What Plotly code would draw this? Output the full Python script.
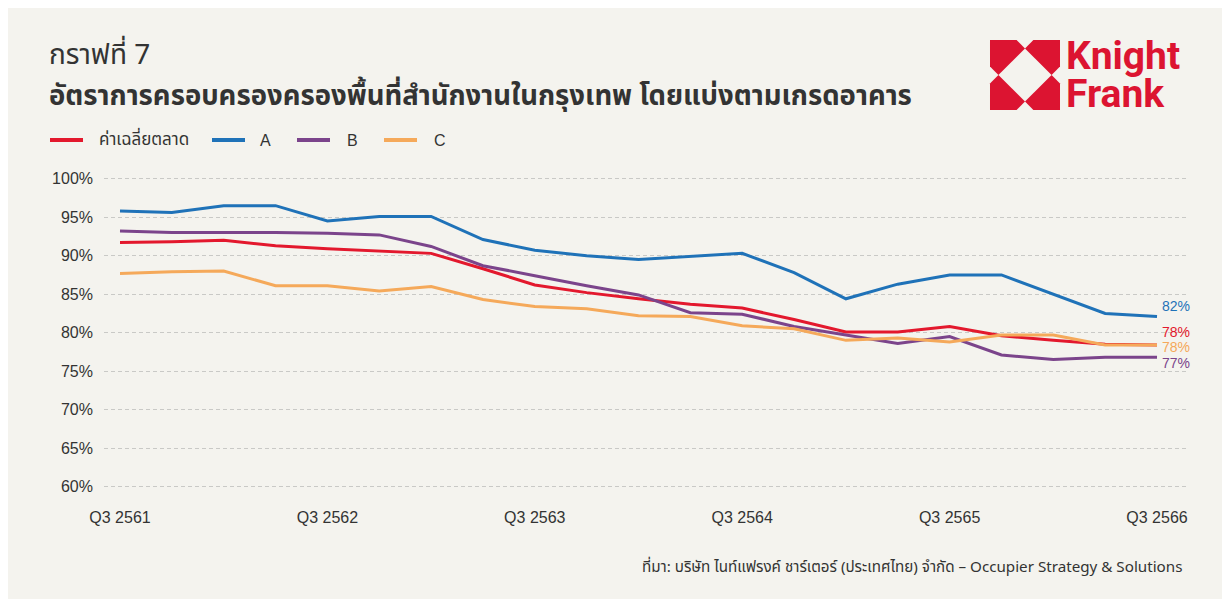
import plotly.graph_objects as go

# Quarterly periods, Q3 2561 .. Q3 2566 (Thai Buddhist years)
years = [2561, 2562, 2563, 2564, 2565, 2566]
quarters = []
for y in range(2561, 2567):
    for q in (1, 2, 3, 4):
        if (y == 2561 and q < 3) or (y == 2566 and q > 3):
            continue
        quarters.append(f"Q{q} {y}")

tick_labels = [f"Q3 {y}" for y in years]

# Occupancy rate (%) by building grade
market_avg = [91.7, 91.8, 92.0, 91.3, 90.9, 90.6, 90.3, 88.3, 86.2, 85.2, 84.4,
              83.7, 83.2, 81.7, 80.1, 80.1, 80.8, 79.6, 79.0, 78.5, 78.4]
grade_a = [95.8, 95.6, 96.5, 96.5, 94.5, 95.1, 95.1, 92.1, 90.7, 90.0, 89.5,
           89.9, 90.3, 87.8, 84.4, 86.3, 87.5, 87.5, 85.0, 82.5, 82.1]
grade_b = [93.2, 93.0, 93.0, 93.0, 92.9, 92.7, 91.2, 88.7, 87.4, 86.1, 84.9,
           82.6, 82.4, 80.8, 79.7, 78.6, 79.5, 77.1, 76.5, 76.8, 76.8]
grade_c = [87.7, 87.9, 88.0, 86.1, 86.1, 85.4, 86.0, 84.3, 83.4, 83.1, 82.2,
           82.1, 80.9, 80.5, 79.0, 79.3, 78.8, 79.7, 79.7, 78.4, 78.4]

series_names = ["ค่าเฉลี่ยตลาด", "A", "B", "C"]
series_values = [market_avg, grade_a, grade_b, grade_c]
series_colors = ["#e3182d", "#1f72b8", "#7b448b", "#f5a95a"]

title_text = "กราฟที่ 7"
subtitle_text = "อัตราการครอบครองครองพื้นที่สำนักงานในกรุงเทพ โดยแบ่งตามเกรดอาคาร"
source_text = "ที่มา: บริษัท ไนท์แฟรงค์ ชาร์เตอร์ (ประเทศไทย) จำกัด – Occupier Strategy & Solutions"

W, H = 1222, 599
L, R, T, B = 104, 1186, 171, 502
CARD = "#f4f3ee"
TEXT = "#333333"
THAI_FONT = "Noto Sans Thai, Noto Sans Thai Looped, Noto Sans, sans-serif"
LATIN_FONT = "Liberation Sans, Arial, sans-serif"
LOGO_RED = "#dc1431"


def px(x):
    return (x - L) / (R - L)


def py(y):
    return (B - y) / (B - T)


xs = list(range(len(quarters)))
fig = go.Figure()
for name, vals, color in zip(series_names, series_values, series_colors):
    fig.add_trace(go.Scatter(
        x=xs, y=vals, mode="lines", name=name,
        line=dict(color=color, width=3),
        hovertemplate="%{text}: %{y:.1f}%<extra>" + name + "</extra>",
        text=quarters,
    ))

# End-of-line value labels
label_shift = {"ค่าเฉลี่ยตลาด": 13, "A": 10, "B": -6, "C": -2}
annotations = []
for name, vals, color in zip(series_names, series_values, series_colors):
    annotations.append(dict(
        x=xs[-1], y=vals[-1], xref="x", yref="y",
        text=f"{vals[-1]:.0f}%", showarrow=False,
        xanchor="left", yanchor="middle", xshift=3, yshift=label_shift[name],
        font=dict(family=LATIN_FONT, size=14, color=color),
    ))

# Titles
annotations.append(dict(
    x=px(47), y=py(55), xref="paper", yref="paper", text=title_text,
    showarrow=False, xanchor="left", yanchor="middle",
    font=dict(family=THAI_FONT, size=28, color=TEXT),
))
annotations.append(dict(
    x=px(47), y=py(96), xref="paper", yref="paper", text=f"<b>{subtitle_text}</b>",
    showarrow=False, xanchor="left", yanchor="middle",
    font=dict(family=THAI_FONT, size=27.5, color=TEXT),
))

# Source line
annotations.append(dict(
    x=px(1184), y=py(567), xref="paper", yref="paper", text=source_text,
    showarrow=False, xanchor="right", yanchor="middle",
    font=dict(family=THAI_FONT, size=15.2, color=TEXT),
))

# Logo wordmark
annotations.append(dict(
    x=px(1064), y=py(56), xref="paper", yref="paper", text="<b>Knight</b>",
    showarrow=False, xanchor="left", yanchor="middle",
    font=dict(family="Roboto, sans-serif", size=39, color=LOGO_RED),
))
annotations.append(dict(
    x=px(1064), y=py(94), xref="paper", yref="paper", text="<b>Frank</b>",
    showarrow=False, xanchor="left", yanchor="middle",
    font=dict(family="Roboto, sans-serif", size=39, color=LOGO_RED),
))

shapes = [
    # card background
    dict(type="rect", xref="paper", yref="paper", x0=px(8), x1=px(W + 2),
         y0=py(H + 2), y1=py(8), fillcolor=CARD, line=dict(width=0), layer="below"),
]

# Legend keys
legend_pos = [(50, 97), (212, 258), (297, 345), (384, 432)]
for (lx, tx), name, color in zip(legend_pos, series_names, series_colors):
    shapes.append(dict(type="line", xref="paper", yref="paper",
                       x0=px(lx), x1=px(lx + 33), y0=py(140), y1=py(140),
                       line=dict(color=color, width=4)))
    is_grade = name in ("A", "B", "C")
    annotations.append(dict(
        x=px(tx), y=py(140), xref="paper", yref="paper", text=name,
        showarrow=False, xanchor="left", yanchor="middle",
        font=dict(family=LATIN_FONT if is_grade else THAI_FONT,
                  size=16 if is_grade else 17, color=TEXT),
    ))

# Logo mark: four red pieces around a white diamond
lx0, ly0, s = 990, 40, 70


def P(u, v):
    return f"{px(lx0 + u * s):.5f},{py(ly0 + v * s):.5f}"


pieces = [
    [(0, 0), (0.38, 0), (0.5, 0.12), (0.12, 0.5), (0, 0.38)],
    [(1, 0), (0.62, 0), (0.5, 0.12), (0.88, 0.5), (1, 0.38)],
    [(0, 1), (0.38, 1), (0.5, 0.88), (0.12, 0.5), (0, 0.62)],
    [(1, 1), (0.62, 1), (0.5, 0.88), (0.88, 0.5), (1, 0.62)],
]
for pc in pieces:
    path = "M " + " L ".join(P(u, v) for u, v in pc) + " Z"
    shapes.append(dict(type="path", xref="paper", yref="paper", path=path,
                       fillcolor=LOGO_RED, line=dict(width=0)))

x0_pos = -0.3086
x1_pos = 20.559
fig.update_layout(
    width=W, height=H,
    margin=dict(l=L, r=W - R, t=T, b=H - B, pad=0),
    paper_bgcolor="white",
    plot_bgcolor="rgba(0,0,0,0)",
    showlegend=False,
    shapes=shapes,
    annotations=annotations,
    xaxis=dict(
        range=[x0_pos, x1_pos],
        tickmode="array",
        tickvals=[quarters.index(t) for t in tick_labels],
        ticktext=tick_labels,
        showgrid=False, zeroline=False, showline=False, ticks="",
        tickfont=dict(family=LATIN_FONT, size=16, color=TEXT),
        ticklabelstandoff=4,
    ),
    yaxis=dict(
        range=[58, 101],
        tickmode="array",
        tickvals=[60, 65, 70, 75, 80, 85, 90, 95, 100],
        ticktext=[f"{v}%" for v in [60, 65, 70, 75, 80, 85, 90, 95, 100]],
        showgrid=True, gridcolor="#c9c9c6", gridwidth=1, griddash="4px,3px",
        zeroline=False, showline=False, ticks="",
        tickfont=dict(family=LATIN_FONT, size=16, color=TEXT),
        ticklabelstandoff=10,
    ),
)

fig.write_html("out.html")
